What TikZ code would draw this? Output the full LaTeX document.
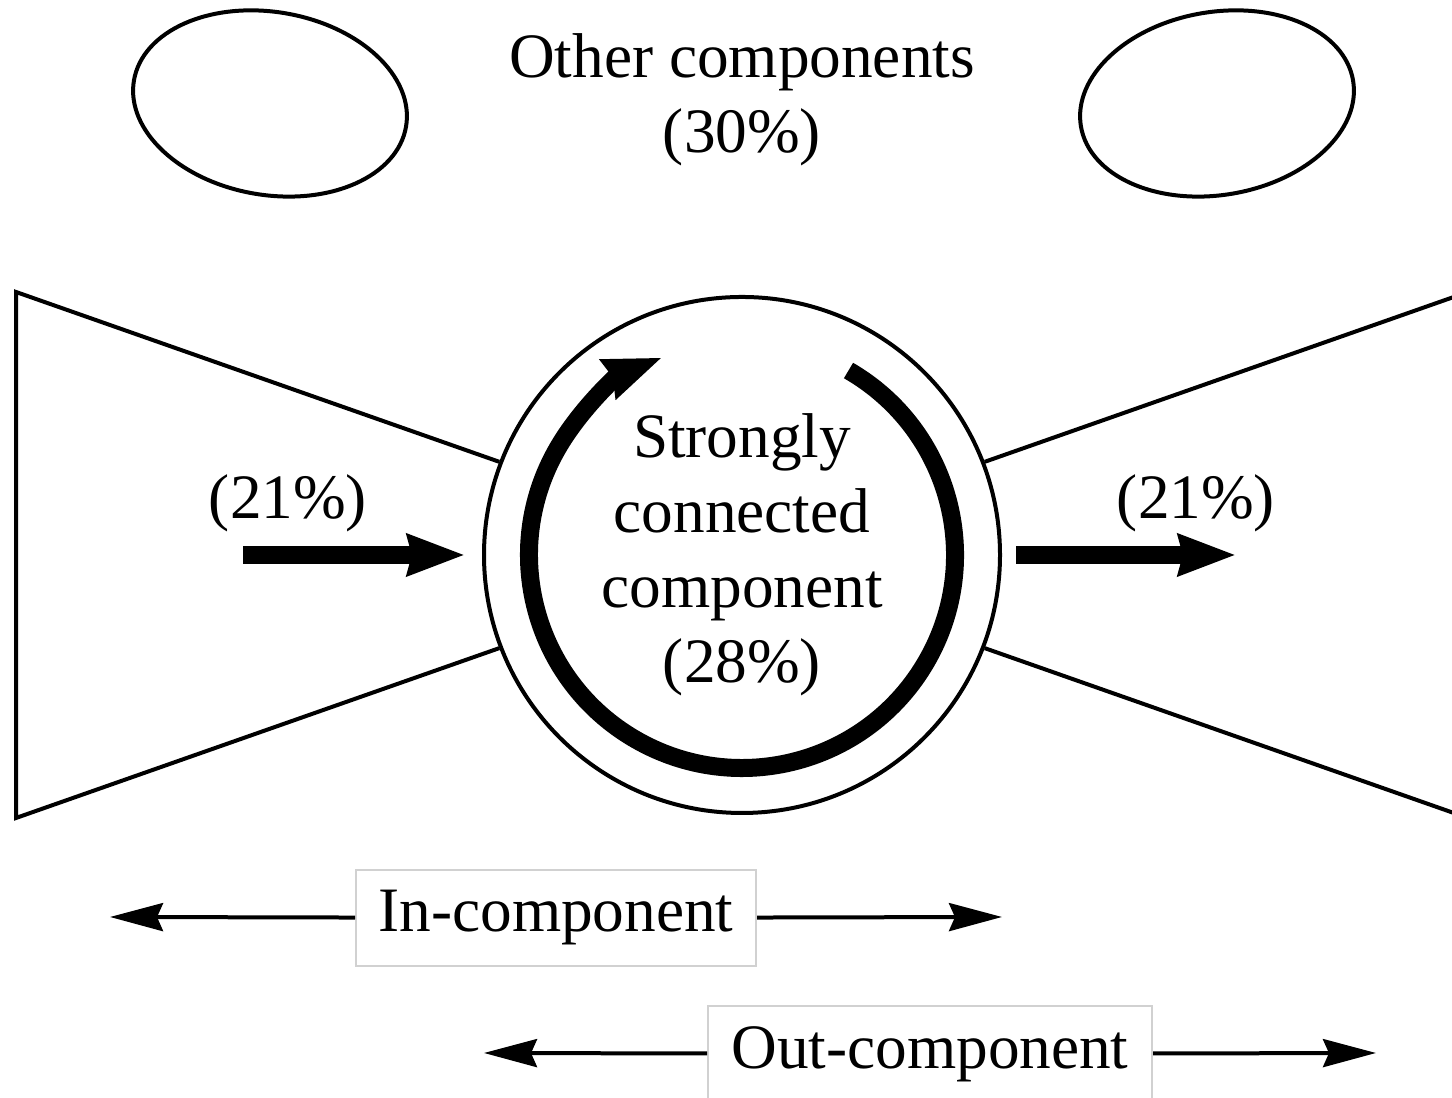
\documentclass[tikz,border=0pt]{standalone}
\usepackage{fontspec}
\setmainfont{Liberation Serif}
\usetikzlibrary{arrows.meta,shapes.geometric,positioning}

\tikzset{scc:style/.style={draw,shape=circle,line width=0.04cm,minimum size=5.16cm,inner sep=0pt,align=center}}
\tikzset{other:style/.style={draw,shape=ellipse,line width=0.04cm,minimum width=2.76cm,minimum height=1.83cm,inner sep=0pt}}
\tikzset{flow:style/.style={line width=0.18cm,-{Stealth[length=0.57cm,width=0.40cm,inset=0.04cm]}}}
\tikzset{span:style/.style={line width=0.04cm,-{Stealth[length=0.53cm,width=0.28cm,inset=0.06cm]}}}
\tikzset{part:style/.style={draw=black!18,line width=0.02cm,fill=white,inner sep=0pt,minimum height=0.96cm}}
\tikzset{edge:style/.style={line width=0.04cm}}
\def\bigtext{\fontsize{18pt}{21.3pt}\selectfont}
\def\myRadius{2.13}

\begin{document}
\begin{tikzpicture}[font=\bigtext]

	\useasboundingbox (0,0) rectangle (14.52,10.98);
	\clip (0,0) rectangle (14.52,10.98);

	% other components on top
	\node[other:style,rotate=-9.6] (oc1) at (2.70,9.945) {};
	\node[other:style,rotate=9.6] (oc2) at (12.17,9.945) {};
	\node[align=center] (octext) at (7.42,9.98) {Other components\\(30\%)};

	% the bow tie
	\node[scc:style] (scc) at (7.42,5.43) {Strongly\\connected\\component\\(28\%)};

	\path
		(0.16,8.06) coordinate (inTop)
		(0.16,2.80) coordinate (inBot)
		(14.68,8.06) coordinate (outTop)
		(14.68,2.80) coordinate (outBot);

	\draw[edge:style] (scc.159) -- (inTop) -- (inBot) -- (scc.201);
	\draw[edge:style] (scc.21) -- (outTop) -- (outBot) -- (scc.-21);

	% flows in and out
	\path
		(2.43,5.43) coordinate (inFrom)
		(4.65,5.43) coordinate (inTo)
		(10.16,5.43) coordinate (outFrom)
		(12.36,5.43) coordinate (outTo);
	\node (inpct) at (2.88,5.95) {(21\%)};
	\node (outpct) at (11.96,5.95) {(21\%)};
	\draw[flow:style] (inFrom) -- (inTo);
	\draw[flow:style] (outFrom) -- (outTo);

	% circulation inside
	\path (scc.center) ++(60:\myRadius) coordinate (arcStart);
	\draw[flow:style] (arcStart) arc[start angle=60,end angle=-248,radius=\myRadius];

	% extents of the two parts
	\node[part:style,minimum width=4.00cm] (incomp) at (5.56,1.80) {In-component};
	\node[part:style,minimum width=4.44cm] (outcomp) at (9.30,0.44) {Out-component};
	\path
		(1.10,1.81) coordinate (inLeft)
		(10.02,1.81) coordinate (inRight)
		(4.84,0.45) coordinate (outLeft)
		(13.76,0.45) coordinate (outRight);
	\draw[span:style] (incomp) -- (inLeft);
	\draw[span:style] (incomp) -- (inRight);
	\draw[span:style] (outcomp) -- (outLeft);
	\draw[span:style] (outcomp) -- (outRight);

\end{tikzpicture}
\end{document}
